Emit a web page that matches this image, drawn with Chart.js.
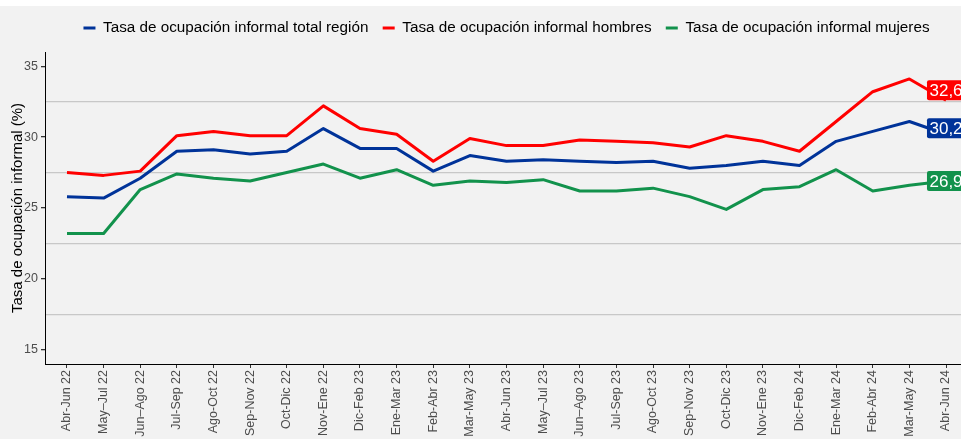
<!DOCTYPE html>
<html>
<head>
<meta charset="utf-8">
<script src="https://cdn.jsdelivr.net/npm/chart.js@4/dist/chart.umd.min.js"></script>
<style>
  html, body { margin: 0; padding: 0; background: #ffffff; overflow: hidden; }
  #wrap { position: absolute; left: 0; top: 6px; width: 968px; height: 433px; background: #f2f2f2; }
</style>
</head>
<body>
<div id="wrap"><canvas id="chart" width="968" height="433"></canvas></div>
<script>
// trimestres móviles
const periodos = ['Abr-Jun 22', 'May–Jul 22', 'Jun–Ago 22', 'Jul-Sep 22', 'Ago-Oct 22', 'Sep-Nov 22',
    'Oct-Dic 22', 'Nov-Ene 22', 'Dic-Feb 23', 'Ene-Mar 23', 'Feb-Abr 23', 'Mar-May 23',
    'Abr-Jun 23', 'May–Jul 23', 'Jun–Ago 23', 'Jul-Sep 23', 'Ago-Oct 23', 'Sep-Nov 23',
    'Oct-Dic 23', 'Nov-Ene 23', 'Dic-Feb 24', 'Ene-Mar 24', 'Feb-Abr 24', 'Mar-May 24', 'Abr-Jun 24'];

const tasaTotal = [25.8, 25.7, 27.1, 29.0, 29.1, 28.8, 29.0, 30.6, 29.2, 29.2, 27.6, 28.7,
    28.3, 28.4, 28.3, 28.2, 28.3, 27.8, 28.0, 28.3, 28.0, 29.7, 30.4, 31.1, 30.2];
const tasaHombres = [27.5, 27.3, 27.6, 30.1, 30.4, 30.1, 30.1, 32.2, 30.6, 30.2, 28.3, 29.9,
    29.4, 29.4, 29.8, 29.7, 29.6, 29.3, 30.1, 29.7, 29.0, 31.1, 33.2, 34.1, 32.6];
const tasaMujeres = [23.2, 23.2, 26.3, 27.4, 27.1, 26.9, 27.5, 28.1, 27.1, 27.7, 26.6, 26.9,
    26.8, 27.0, 26.2, 26.2, 26.4, 25.8, 24.9, 26.3, 26.5, 27.7, 26.2, 26.6, 26.9];

const yTicks = [15, 17.5, 20, 22.5, 25, 27.5, 30, 32.5, 35];

const series = [
    { label: 'Tasa de ocupación informal total región', data: tasaTotal, color: '#003399', nudge: -6 },
    { label: 'Tasa de ocupación informal hombres', data: tasaHombres, color: '#ff0000', nudge: -10 },
    { label: 'Tasa de ocupación informal mujeres', data: tasaMujeres, color: '#12924c', nudge: 0 },
];

const FONT = "'Liberation Sans', Arial, sans-serif";

// etiqueta con el último valor de cada serie
const etiquetasFinales = {
    id: 'etiquetasFinales',
    afterDatasetsDraw(chart) {
        const ctx = chart.ctx;
        ctx.save();
        ctx.font = `17px ${FONT}`;
        ctx.textAlign = 'center';
        ctx.textBaseline = 'middle';
        chart.data.datasets.forEach((ds, i) => {
            const meta = chart.getDatasetMeta(i);
            const pt = meta.data[meta.data.length - 1];
            const valor = ds.data[ds.data.length - 1].y;
            const texto = valor.toFixed(1).replace('.', ',');
            const w = ctx.measureText(texto).width + 5;
            const h = 20;
            const y = pt.y + series[i].nudge;
            ctx.fillStyle = series[i].color;
            ctx.beginPath();
            ctx.roundRect(pt.x - w / 2, y - h / 2, w, h, 2);
            ctx.fill();
            ctx.fillStyle = '#ffffff';
            ctx.fillText(texto, pt.x, y + 1);
        });
        ctx.restore();
    }
};

const chart = new Chart(document.getElementById('chart'), {
    type: 'line',
    data: {
        datasets: series.map(s => ({
            label: s.label,
            data: s.data.map((v, i) => ({ x: i, y: v })),
            borderColor: s.color,
            backgroundColor: s.color,
            borderWidth: 3,
            pointRadius: 0,
            tension: 0,
            borderJoinStyle: 'round',
            fill: false,
        })),
    },
    options: {
        responsive: false,
        animation: false,
        layout: { padding: { top: 0, left: 0, right: 0, bottom: 0 } },
        plugins: {
            tooltip: { enabled: false },
            legend: {
                position: 'top',
                fullSize: false,
                labels: {
                    color: '#000000',
                    font: { family: FONT, size: 15.25 },
                    boxWidth: 12,
                    boxHeight: 3,
                    padding: 14.25,
                    generateLabels(chart) {
                        return Chart.defaults.plugins.legend.labels.generateLabels(chart).map(l => {
                            l.lineWidth = 0;
                            return l;
                        });
                    },
                },
            },
            // separación vacía entre la leyenda y el panel
            title: {
                display: true,
                text: '',
                position: 'top',
                weight: 100,
                fullSize: false,
                font: { size: 5, lineHeight: 1 },
                padding: { top: 0, bottom: 1.5 },
            },
        },
        scales: {
            x: {
                type: 'linear',
                min: -0.6,
                max: 24.6,
                afterBuildTicks(scale) {
                    scale.ticks = periodos.map((p, i) => ({ value: i }));
                },
                afterFit(scale) {
                    scale.height = 75;
                },
                ticks: {
                    autoSkip: false,
                    maxRotation: 90,
                    minRotation: 90,
                    padding: 2,
                    color: '#4d4d4d',
                    font: { family: FONT, size: 12.5 },
                    callback: (v) => periodos[v],
                },
                grid: { drawOnChartArea: false, drawTicks: true, tickLength: 4, tickColor: '#333333' },
                border: { color: '#000000', width: 1 },
            },
            y: {
                min: 14,
                max: 36,
                afterBuildTicks(scale) {
                    scale.ticks = yTicks.map(v => ({ value: v }));
                },
                afterFit(scale) {
                    scale.width = 45;
                },
                ticks: {
                    padding: 3,
                    color: '#4d4d4d',
                    font: { family: FONT, size: 12.5 },
                    callback: (v) => (v % 5 === 0 ? String(v) : ''),
                },
                grid: {
                    color: (c) => (c.tick && c.tick.value % 5 !== 0 ? '#c8c8c8' : 'rgba(0,0,0,0)'),
                    lineWidth: 1.3,
                    tickLength: 4,
                    tickColor: (c) => (c.tick && c.tick.value % 5 === 0 ? '#333333' : 'rgba(0,0,0,0)'),
                },
                border: { color: '#000000', width: 1 },
                title: {
                    display: true,
                    text: 'Tasa de ocupación informal (%)',
                    color: '#000000',
                    font: { family: FONT, size: 15 },
                    padding: { top: 9, bottom: 2 },
                },
            },
        },
    },
    plugins: [etiquetasFinales],
});
</script>
</body>
</html>
